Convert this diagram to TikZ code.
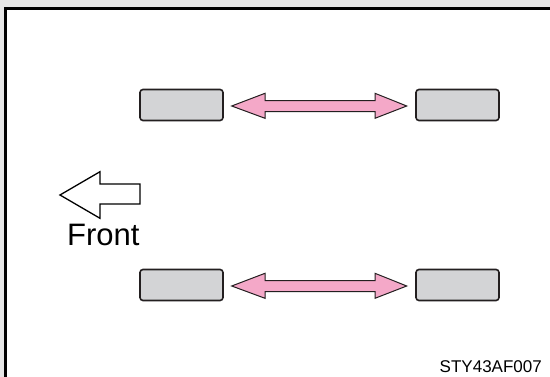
\documentclass[tikz,border=0pt]{standalone}
\usepackage{fontspec}
\setmainfont{Liberation Sans}
\definecolor{bgray}{HTML}{E6E6E6}
\definecolor{boxgray}{HTML}{D3D4D6}
\definecolor{pinkfill}{HTML}{F4A8C8}
\definecolor{darkline}{HTML}{231F20}
\begin{document}
\begin{tikzpicture}[x=1pt,y=-1pt,
  wheel/.style={draw=darkline,line width=1.6pt,fill=boxgray,rounded corners=3pt,minimum width=83pt,minimum height=31pt,inner sep=0pt},
  dblarrow/.style={draw=darkline,line width=1pt,fill=pinkfill,line join=miter},
  frontarrow/.style={draw=black,line width=1.3pt,fill=white,line join=miter}]
\fill[bgray] (0,0) rectangle (550,377);
\useasboundingbox (0,0) rectangle (550,377);
\draw[line width=2.2pt,fill=white] (5.5,8.5) rectangle (570,400);
% top pair
\node[wheel] (tl) at (181.5,105) {};
\node[wheel] (tr) at (457.5,105) {};
% bottom pair
\node[wheel] (bl) at (181.5,285) {};
\node[wheel] (br) at (457.5,285) {};
% top double arrow
\draw[dblarrow] (231.7,106) -- (265,93.3) -- (265,100.7) -- (375,100.7) -- (375,93.3) -- (406.7,106)
  -- (375,118.3) -- (375,111.7) -- (265,111.7) -- (265,118.3) -- cycle;
% bottom double arrow
\draw[dblarrow] (231.7,286) -- (265,273.3) -- (265,280.7) -- (375,280.7) -- (375,273.3) -- (406.7,286)
  -- (375,298.3) -- (375,291.7) -- (265,291.7) -- (265,298.3) -- cycle;
% front arrow
\draw[frontarrow] (60,195) -- (100,171.7) -- (100,184) -- (140,184) -- (140,204) -- (100,204) -- (100,218.3) -- cycle;
\node[anchor=base west,inner sep=0pt,font=\fontsize{31}{31}\selectfont] (front) at (67,246) {Front};
\node[anchor=base east,inner sep=0pt,font=\fontsize{17}{17}\selectfont] (code) at (542,373) {STY43AF007};
\end{tikzpicture}
\end{document}
